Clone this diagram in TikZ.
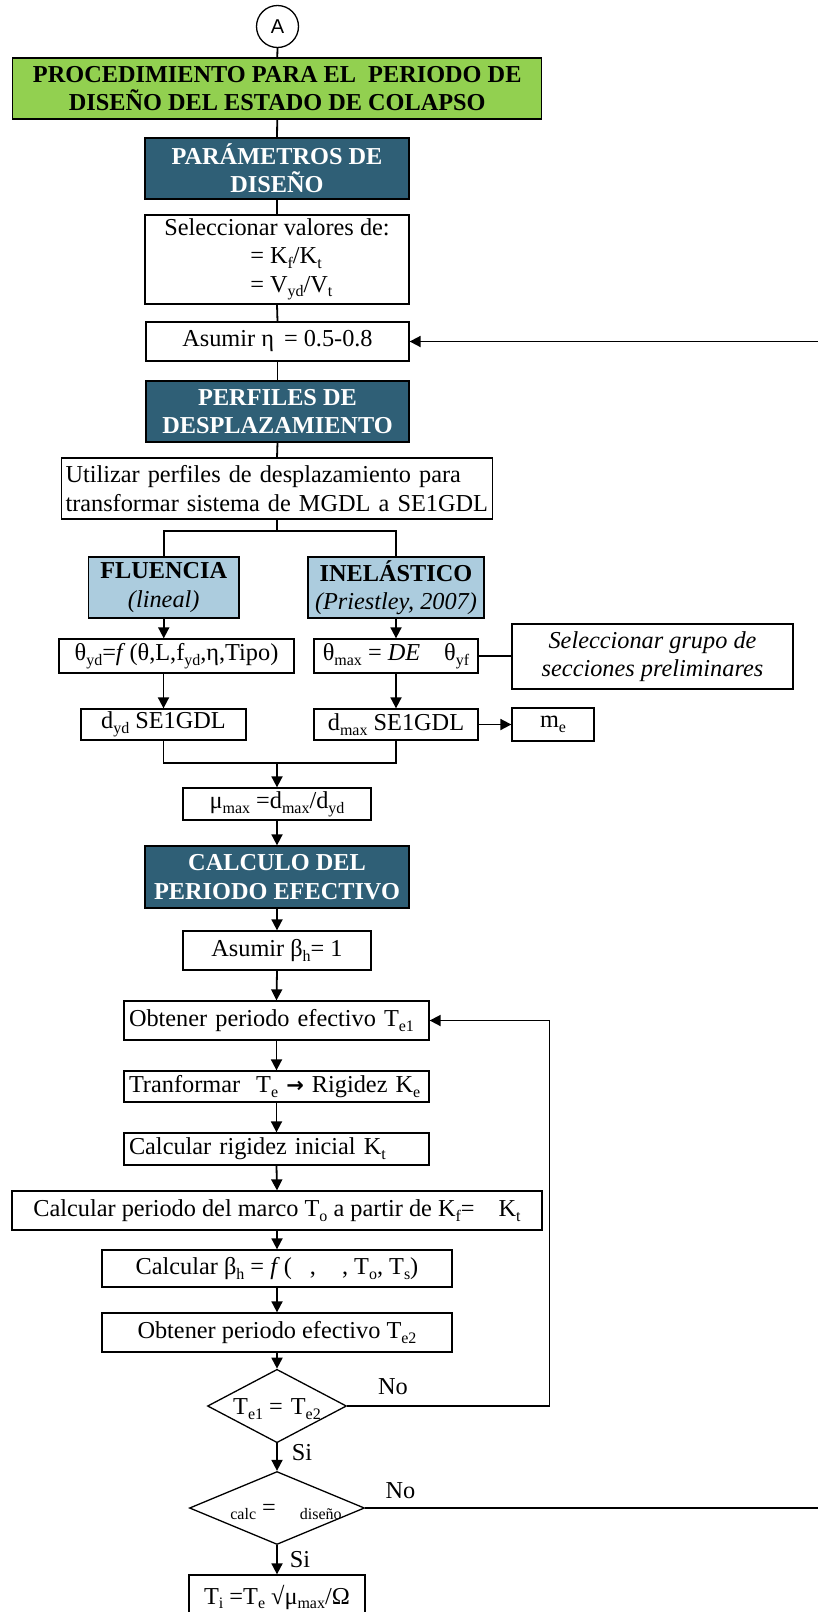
\documentclass[tikz,border=0pt]{standalone}
\usepackage{fontspec}
\setmainfont{Liberation Serif}
\newfontfamily\arialf{Liberation Sans}
\newfontfamily\djv{DejaVu Sans}
\usetikzlibrary{arrows.meta,shapes.geometric}
\definecolor{hdr}{RGB}{47,95,118}
\definecolor{lblue}{RGB}{172,204,222}
\definecolor{lgreen}{RGB}{146,208,80}
\newcommand\sbx[1]{\raisebox{-0.2em}{\fontsize{16}{16}\selectfont #1}}
\newcommand\dtext[2]{\makebox[0pt]{\raisebox{#1}[0pt][0pt]{#2}}}
\begin{document}
\begin{tikzpicture}[x=1pt,y=-1pt,
  every node/.style={font=\fontsize{24.3}{28.3}\selectfont},
  bx/.style={draw, line width=1.3pt, fill=white, inner sep=0pt, align=center},
  hdrbox/.style={bx, fill=hdr, text=white, font=\fontsize{24.3}{28.3}\selectfont\bfseries},
  subbox/.style={bx, fill=lblue},
  lbox/.style={bx, align=left, inner xsep=5pt, text width=295pt, minimum height=#1},
  dia/.style={draw, diamond, line width=1.3pt, fill=white, inner sep=0pt},
  con/.style={line width=1.8pt},
  arr/.style={con, -{Triangle[length=11pt,width=11pt]}},
  lab/.style={font=\fontsize{24.3}{28.3}\selectfont}
]
\useasboundingbox (0,0) rectangle (817,1612);

% nodes
\node[circle, draw, line width=1.3pt, minimum size=42pt, inner sep=0pt, font=\arialf\fontsize{20}{20}\selectfont] (cA) at (277.5,26.5) {A};
\node[bx, fill=lgreen, font=\fontsize{24.3}{28.3}\selectfont\bfseries, minimum width=529pt, minimum height=61pt] (green) at (277.25,88.5) {PROCEDIMIENTO PARA EL\ \ PERIODO DE\\DISEÑO DEL ESTADO DE COLAPSO};
\node[hdrbox, minimum width=264pt, minimum height=61pt] (param) at (277,168.5) {PARÁMETROS DE\\DISEÑO};
\node[bx, align=left, minimum width=264pt, minimum height=89pt] (selval) at (277,259.5) {Seleccionar valores de:\\\hspace*{86pt}= K\sbx{f}/K\sbx{t}\\\hspace*{86pt}= V\sbx{yd}/V\sbx{t}};
\node[bx, minimum width=263pt, minimum height=39pt] (aeta) at (277.5,341.5) {Asumir η\hspace{10pt}= 0.5-0.8};
\node[hdrbox, minimum width=263pt, minimum height=61pt] (perf) at (277.5,411.5) {PERFILES DE\\DESPLAZAMIENTO};
\node[bx, align=left, inner xsep=4pt, text width=423pt, minimum height=61pt] (util) at (277,488.5) {\mbox{Utilizar perfiles de desplazamiento para}\\\mbox{transformar sistema de MGDL a SE1GDL}};
\node[subbox, minimum width=150.5pt, minimum height=61pt] (fluen) at (163.75,587.5) {\textbf{FLUENCIA}\\\textit{(lineal)}};
\node[subbox, minimum width=176pt, minimum height=61pt] (inel) at (396,587.5) {\textbf{INELÁSTICO}\\\textit{(Priestley, 2007)}};
\node[bx, minimum width=235pt, minimum height=34pt] (tyd) at (176.5,656) {θ\sbx{yd}=\textit{f}\,(θ,L,f\sbx{yd},η,Tipo)};
\node[bx, minimum width=164pt, minimum height=34pt] (tmax) at (396,656) {θ\sbx{max} = \textit{DE}\hspace{24pt}θ\sbx{yf}};
\node[bx, font=\fontsize{24.3}{28.3}\selectfont\itshape, minimum width=281pt, minimum height=65pt] (selg) at (652.5,656.5) {Seleccionar grupo de\\secciones preliminares};
\node[bx, minimum width=165pt, minimum height=31pt] (dyd) at (163.5,724.5) {d\sbx{yd} SE1GDL};
\node[bx, minimum width=164pt, minimum height=31pt] (dmax) at (396,724.5) {d\sbx{max} SE1GDL};
\node[bx, minimum width=82pt, minimum height=33pt] (me) at (553,724.5) {m\sbx{e}};
\node[bx, minimum width=188pt, minimum height=32pt] (mu) at (277,804) {μ\sbx{max} =d\sbx{max}/d\sbx{yd}};
\node[hdrbox, minimum width=264pt, minimum height=62pt] (calc) at (277,877) {CALCULO DEL\\PERIODO EFECTIVO};
\node[bx, minimum width=188pt, minimum height=39pt] (asumB) at (277,950.5) {Asumir β\sbx{h}= 1};
\node[lbox=39pt] (ote1) at (276.5,1020.5) {\mbox{Obtener periodo efectivo T\sbx{e1}}};
\node[lbox=31pt] (tranf) at (276.5,1086.5) {\mbox{Tranformar\hspace{8pt} T\sbx{e} {\djv\bfseries\fontsize{21}{21}\selectfont →} Rigidez K\sbx{e}}};
\node[lbox=32pt] (crig) at (276.5,1149) {\mbox{Calcular rigidez inicial K\sbx{t}}};
\node[bx, minimum width=530pt, minimum height=39pt] (cper) at (277,1210.5) {Calcular periodo del marco T\sbx{o} a partir de K\sbx{f}=\hspace{24pt}K\sbx{t}};
\node[bx, minimum width=350pt, minimum height=37pt] (cbeta) at (277,1268.5) {Calcular β\sbx{h} = \textit{f}\,(\hspace{18pt},\hspace{26pt}, T\sbx{o}, T\sbx{s})};
\node[bx, minimum width=350pt, minimum height=39pt] (ote2) at (277,1332.5) {Obtener periodo efectivo T\sbx{e2}};
\node[dia, minimum width=139pt, minimum height=73.4pt] (d1) at (277,1406) {\dtext{-8.5pt}{T\sbx{e1} =\hspace{8pt}T\sbx{e2}}};
\node[dia, minimum width=175pt, minimum height=73pt] (d2) at (277,1508) {\dtext{-7pt}{\hspace*{18pt}\sbx{calc} =\hspace{24pt}\sbx{diseño}}};
\node[bx, minimum width=176pt, minimum height=44pt] (fin) at (277,1597) {T\sbx{i} =T\sbx{e} √μ\sbx{max}/Ω};

% labels
\node[lab] (no1) at (393,1387) {No};
\node[lab] (si1) at (302,1453) {Si};
\node[lab] (no2) at (400.5,1491) {No};
\node[lab] (si2) at (300,1560) {Si};

% coordinates
\coordinate (br) at (277,531);
\coordinate (mg) at (277,763);
\coordinate (loop1) at (549.5,1406);
\coordinate (loop2) at (822,1508);

% connectors
\draw[con] (cA.south) -- (green.north);
\draw[con] (green.south) -- (param.north);
\draw[con] (param.south) -- (selval.north);
\draw[con] (selval.south) -- (aeta.north);
\draw[con] (aeta.south) -- (perf.north);
\draw[con] (perf.south) -- (util.north);
\draw[con] (util.south) -- (br);
\draw[con] (fluen.north) |- (br) -| (inel.north);
\draw[arr] (fluen.south) -- (fluen.south |- tyd.north);
\draw[arr] (inel.south) -- (tmax.north);
\draw[con] (tmax.east) -- (selg.west |- tmax.east);
\draw[arr] (dyd.north |- tyd.south) -- (dyd.north);
\draw[arr] (tmax.south) -- (dmax.north);
\draw[arr] (dmax.east) -- (me.west);
\draw[con] (dyd.south) |- (mg) -| (dmax.south);
\draw[arr] (mg) -- (mu.north);
\draw[arr] (mu.south) -- (calc.north);
\draw[arr] (calc.south) -- (asumB.north);
\draw[arr] (asumB.south) -- (ote1.north);
\draw[arr] (ote1.south) -- (tranf.north);
\draw[arr] (tranf.south) -- (crig.north);
\draw[arr] (crig.south) -- (cper.north);
\draw[arr] (cper.south) -- (cbeta.north);
\draw[arr] (cbeta.south) -- (ote2.north);
\draw[arr] (ote2.south) -- (d1.north);
\draw[arr] (d1.south) -- (d2.north);
\draw[arr] (d2.south) -- (fin.north);
\draw[arr] (d1.east) -- (loop1) |- (ote1.east);
\draw[arr] (d2.east) -- (loop2) |- (aeta.east);
\end{tikzpicture}
\end{document}
